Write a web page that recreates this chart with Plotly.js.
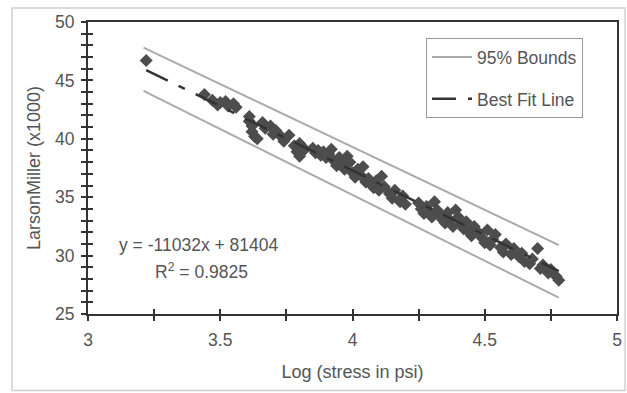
<!DOCTYPE html>
<html><head><meta charset="utf-8">
<script src="https://cdn.plot.ly/plotly-3.0.1.min.js"></script>
<style>html,body{margin:0;padding:0;background:#fff;}#chart{width:627px;height:393px;}</style>
</head><body><div id="chart"></div>
<script>
const logStress = [3.22,3.44,3.47,3.49,3.50,3.52,3.53,3.55,3.56,3.61,3.61,3.62,3.62,3.63,3.64,3.66,3.67,3.69,3.70,3.71,3.73,3.74,3.76,3.78,3.79,3.80,3.80,3.82,3.85,3.86,3.87,3.88,3.89,3.90,3.91,3.92,3.93,3.94,3.95,3.96,3.97,3.98,3.99,4.00,4.01,4.02,4.03,4.04,4.05,4.06,4.07,4.08,4.09,4.10,4.11,4.12,4.14,4.15,4.16,4.18,4.19,4.20,4.25,4.26,4.27,4.28,4.29,4.30,4.31,4.32,4.33,4.34,4.35,4.36,4.37,4.38,4.39,4.40,4.41,4.42,4.43,4.44,4.45,4.46,4.48,4.49,4.50,4.51,4.52,4.53,4.54,4.56,4.57,4.58,4.60,4.61,4.63,4.64,4.65,4.67,4.68,4.70,4.71,4.72,4.74,4.75,4.77,4.78];
const larsonMiller = [46.7,43.8,43.3,42.9,43.1,43.2,42.8,43.0,42.7,41.9,41.5,41.1,40.6,40.2,40.0,41.4,40.9,41.1,40.4,40.7,40.2,39.8,40.3,39.4,38.9,38.5,39.6,39.1,39.2,38.8,39.0,38.6,38.9,38.4,38.7,39.1,38.1,37.7,38.4,37.9,37.4,38.5,38.0,37.1,36.7,37.4,36.9,37.6,36.3,36.6,36.1,35.8,36.4,35.6,36.8,35.9,35.3,34.9,35.6,34.6,35.1,34.4,34.5,34.0,33.6,34.2,33.8,33.3,34.6,33.9,33.5,33.1,32.8,33.7,33.0,32.5,33.9,33.3,32.7,32.3,32.9,32.0,31.7,32.5,31.9,31.5,31.1,32.2,30.9,31.4,31.8,30.7,30.3,31.0,30.1,30.6,29.9,30.2,29.5,29.3,29.7,30.6,28.9,29.2,28.5,28.8,28.2,27.9];
const fitX = [3.22, 4.78];
const fitY = [45.88, 28.67];
const boundX = [3.21, 4.78];
const upperY = [47.8, 30.9];
const lowerY = [44.1, 26.4];
const xTickVals = [3, 3.5, 4, 4.5, 5];
const xTickText = ['3', '3.5', '4', '4.5', '5'];
const yTickVals = [25, 30, 35, 40, 45, 50];
const yTickText = ['25', '30', '35', '40', '45', '50'];

const fam = '"Liberation Sans", Arial, sans-serif';
const font = {family: fam, size: 17.5, color: '#555'};
const titleFont = {family: fam, size: 18, color: '#555'};

const traces = [
  {x: boundX, y: upperY, mode: 'lines', name: '95% Bounds', legendgroup: 'b',
   line: {color: '#ababab', width: 2}, xaxis: 'x2', yaxis: 'y2'},
  {x: boundX, y: lowerY, mode: 'lines', name: 'lower', showlegend: false, legendgroup: 'b',
   line: {color: '#ababab', width: 2}, xaxis: 'x2', yaxis: 'y2'},
  {x: logStress, y: larsonMiller, mode: 'markers', name: 'data', showlegend: false,
   marker: {symbol: 'diamond', size: 10, color: '#4d4d4d'}},
  {x: fitX, y: fitY, mode: 'lines', name: 'Best Fit Line', legendgroup: 'f',
   line: {color: '#333', width: 2.5, dash: '24px,12px,7px,12px'}}
];

const layout = {
  width: 627, height: 393,
  margin: {l: 88, r: 10, t: 22, b: 79},
  paper_bgcolor: '#fff', plot_bgcolor: '#fff',
  font: font,
  showlegend: true,
  xaxis: {range: [3, 5], tickvals: xTickVals, ticktext: xTickText,
    showgrid: false, zeroline: false, showline: true, mirror: true, linecolor: '#333', linewidth: 2,
    ticks: 'outside', ticklen: 5, tickwidth: 2, tickcolor: '#333', ticklabelstandoff: 4,
    minor: {dtick: 0.25, ticks: 'outside', ticklen: 5, tickwidth: 2, tickcolor: '#333'},
    tickfont: font, title: {text: 'Log (stress in psi)', font: titleFont, standoff: 16}},
  yaxis: {range: [25, 50], tickvals: yTickVals, ticktext: yTickText,
    showgrid: false, zeroline: false, showline: true, mirror: true, linecolor: '#333', linewidth: 2,
    ticks: 'outside', ticklen: 5, tickwidth: 2, tickcolor: '#333', ticklabelstandoff: 3,
    minor: {dtick: 1, ticks: 'outside', ticklen: 5, tickwidth: 2, tickcolor: '#333'},
    tickfont: font, title: {text: 'LarsonMiller (x1000)', font: titleFont, standoff: 10}},
  xaxis2: {range: [3, 5], overlaying: 'x', matches: 'x', dtick: 0.25, tick0: 3, showticklabels: false,
    showgrid: false, zeroline: false, showline: false, ticks: 'inside', ticklen: 5, tickwidth: 2, tickcolor: '#333'},
  yaxis2: {range: [25, 50], overlaying: 'y', matches: 'y', dtick: 1, tick0: 25, showticklabels: false,
    showgrid: false, zeroline: false, showline: false, ticks: 'inside', ticklen: 5, tickwidth: 2, tickcolor: '#333'},
  legend: {x: 0.639, y: 0.945, xanchor: 'left', yanchor: 'top',
    bgcolor: '#fff', bordercolor: '#999', borderwidth: 1,
    font: font, tracegroupgap: 16, itemwidth: 40},
  annotations: [
    {x: 3.42, y: 30.9, xref: 'x', yref: 'y', text: 'y = -11032x + 81404', showarrow: false, font: font},
    {x: 3.43, y: 28.7, xref: 'x', yref: 'y', text: 'R<sup>2</sup> = 0.9825', showarrow: false, font: font}
  ],
  shapes: [
    {type: 'rect', xref: 'paper', yref: 'paper', x0: -0.1437, x1: 1.0151, y0: -0.262, y1: 1.048,
     line: {color: '#d0d0d0', width: 1.5}, layer: 'below'}
  ]
};

Plotly.newPlot('chart', traces, layout, {displayModeBar: false, staticPlot: true});
</script></body></html>
